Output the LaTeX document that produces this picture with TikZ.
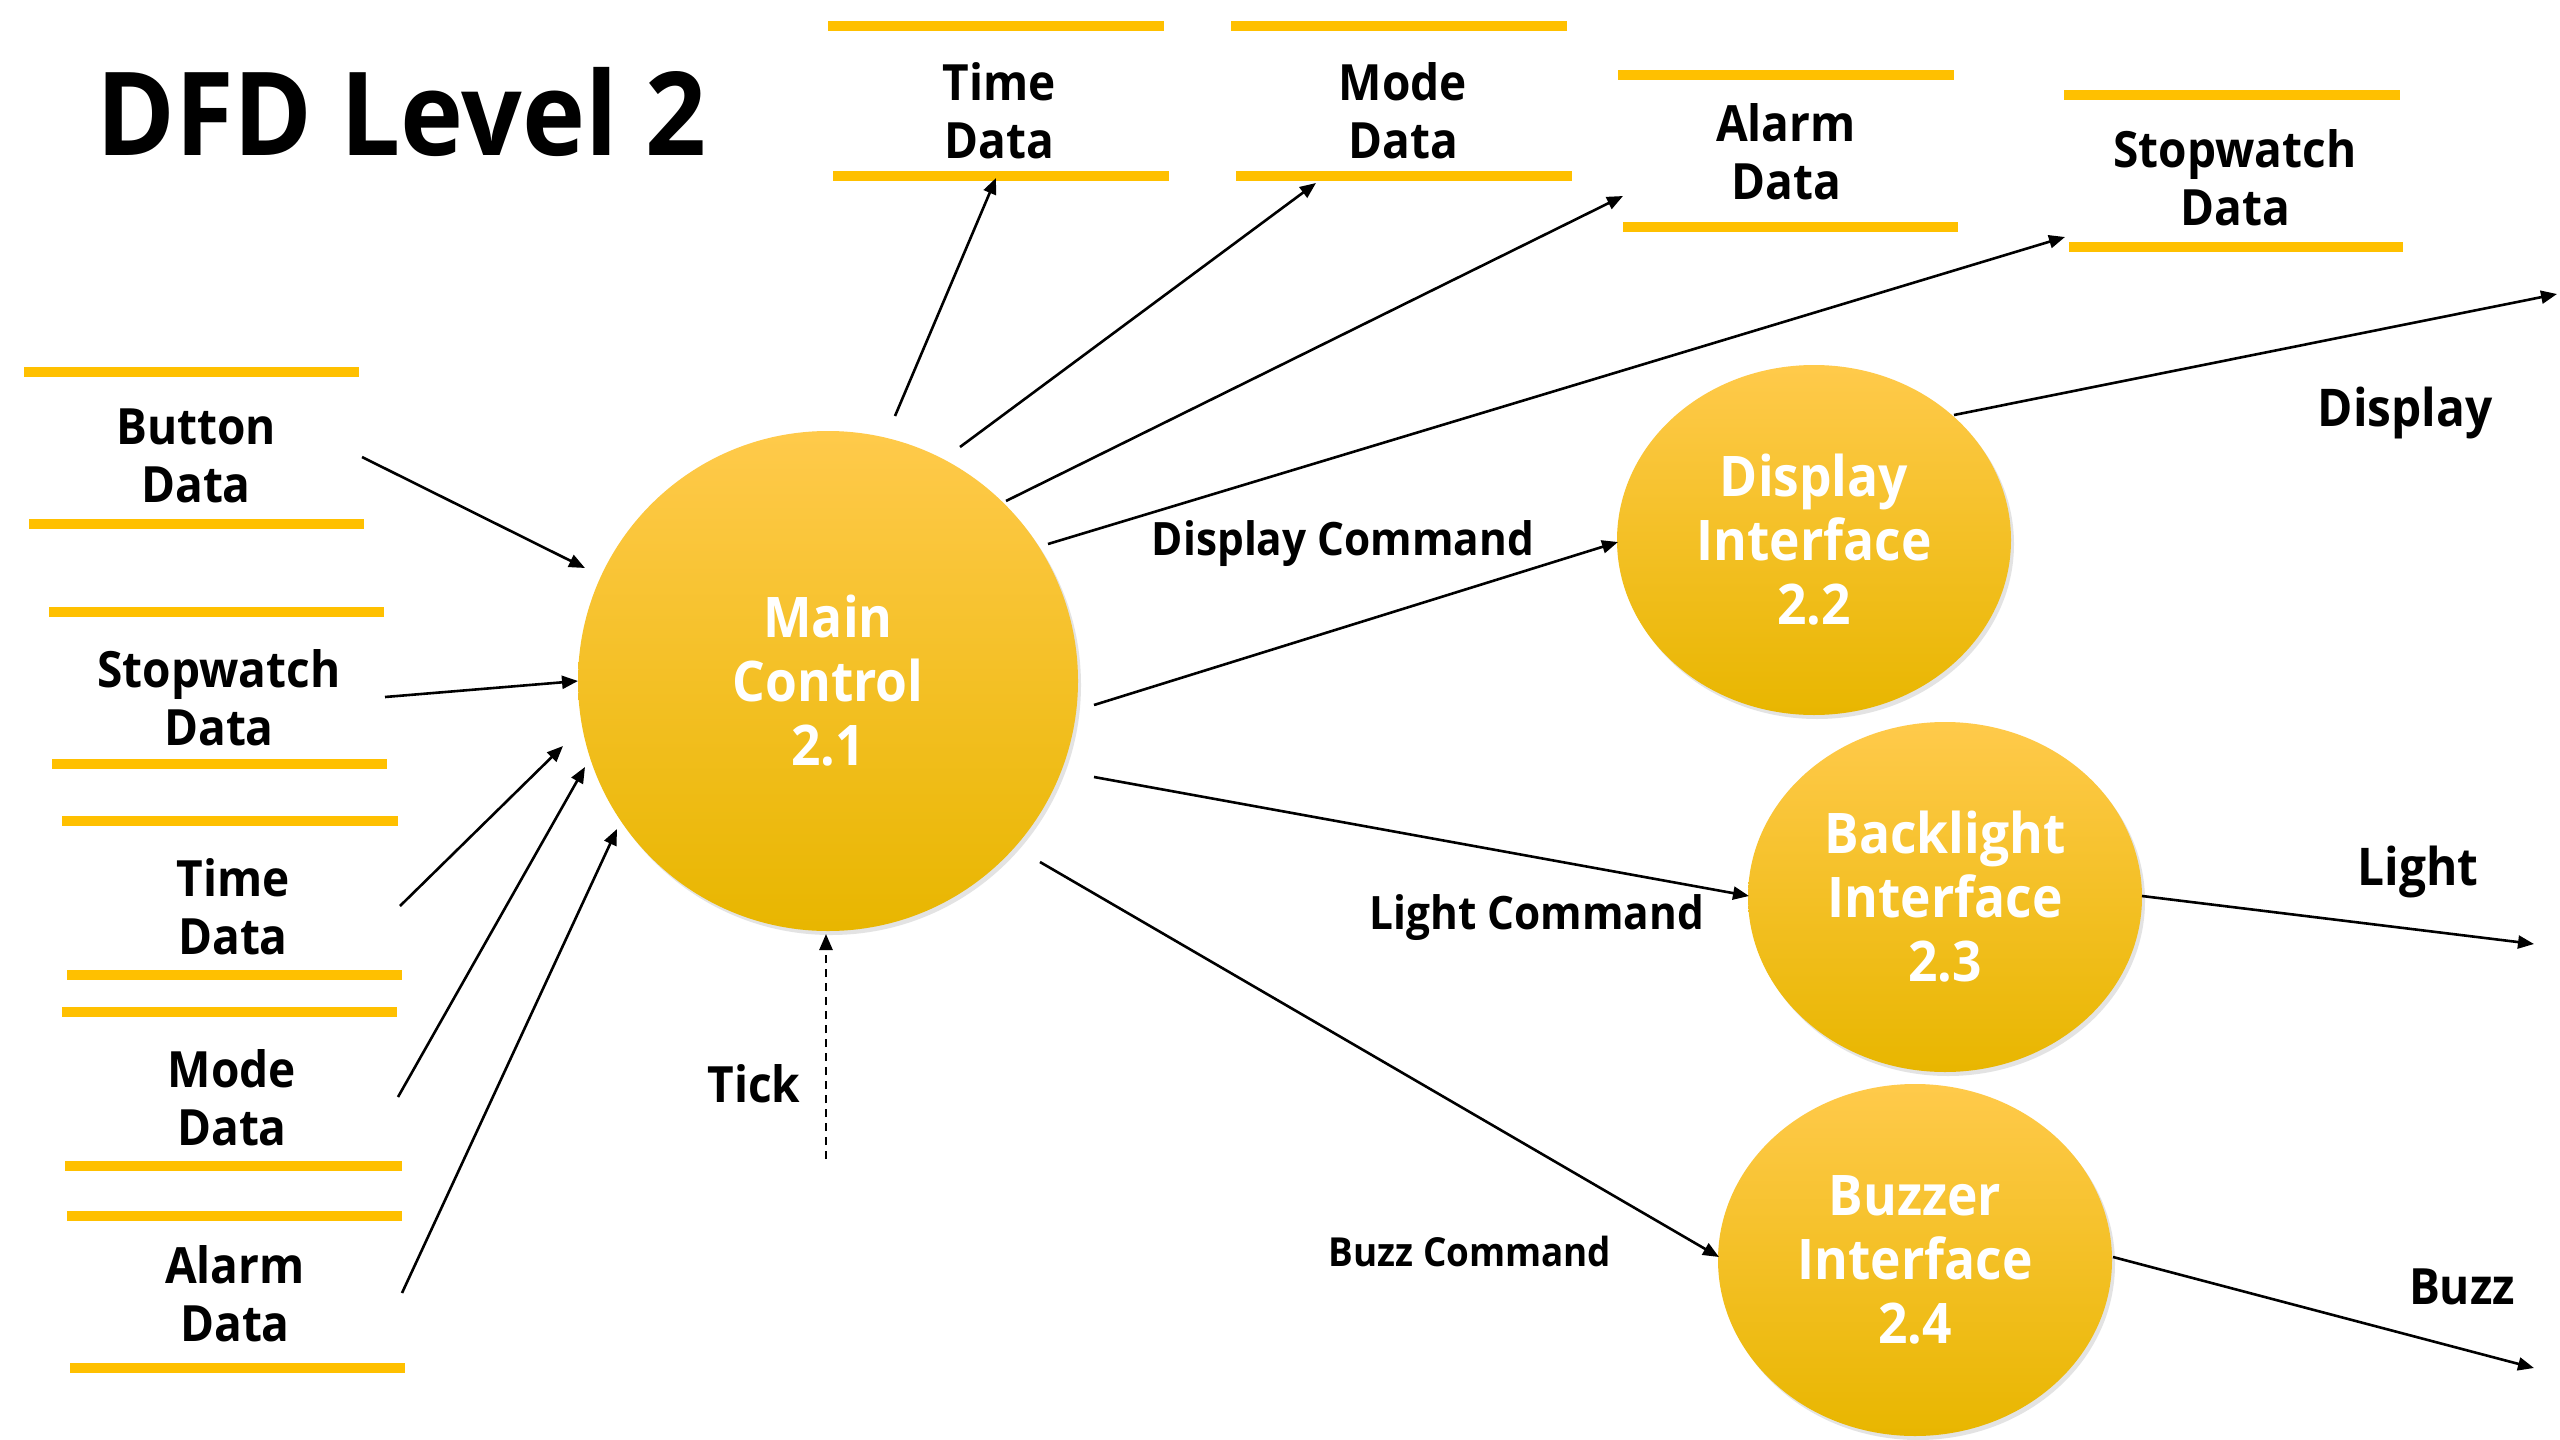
\documentclass[tikz,border=0pt]{standalone}
\usepackage{fontspec}
\setmainfont{Open Sans}[FakeStretch=0.92]
\usetikzlibrary{arrows.meta,shapes.geometric,shadows}
\definecolor{gold}{HTML}{FFC000}
\definecolor{goldtop}{HTML}{FFCA4B}
\definecolor{goldmid}{HTML}{FFC400}
\definecolor{goldbot}{HTML}{E8B600}
\tikzset{
  storebar/.style={draw=gold, line width=5pt},
  storetext/.style={font=\fontsize{25pt}{29pt}\selectfont\bfseries, align=center, inner sep=0pt},
  proc/.style={shape=ellipse, inner sep=0pt, top color=goldtop, middle color=goldmid, bottom color=goldbot,
    drop shadow={opacity=0.22, shadow xshift=1.5pt, shadow yshift=-2pt},
    text=white, font=\fontsize{28pt}{32pt}\selectfont\bfseries, align=center},
  flow/.style={draw=black, line width=1.3pt, -{Triangle[length=8pt,width=6.5pt]}},
  lbl/.style={font=\fontsize{23pt}{27pt}\selectfont\bfseries, inner sep=0pt}
}
\begin{document}
\begin{tikzpicture}[x=0.5pt,y=-0.5pt]
\useasboundingbox[fill=white] (0,0) rectangle (2560,1440);

% title
\node[anchor=base west, inner sep=0pt, font=\fontsize{58pt}{64pt}\selectfont\bfseries] (title) at (96,155) {DFD Level 2};

% data stores (top row)
\draw[storebar] (828,26) -- (1164,26);   \draw[storebar] (833,176) -- (1169,176);
\node[storetext] (timeT) at (999,111) {Time\\Data};
\draw[storebar] (1231,26) -- (1567,26);  \draw[storebar] (1236,176) -- (1572,176);
\node[storetext] (modeT) at (1403,111) {Mode\\Data};
\draw[storebar] (1618,75) -- (1954,75);  \draw[storebar] (1623,227) -- (1958,227);
\node[storetext] (alarmT) at (1786,152) {Alarm\\Data};
\draw[storebar] (2064,95) -- (2400,95);  \draw[storebar] (2069,247) -- (2403,247);
\node[storetext] (swT) at (2235,178) {Stopwatch\\Data};

% data stores (left column)
\draw[storebar] (24,372) -- (359,372);   \draw[storebar] (29,524) -- (364,524);
\node[storetext] (button) at (196,456) {Button\\Data};
\draw[storebar] (49,612) -- (384,612);   \draw[storebar] (52,764) -- (387,764);
\node[storetext] (swL) at (219,698) {Stopwatch\\Data};
\draw[storebar] (62,821) -- (398,821);   \draw[storebar] (67,975) -- (402,975);
\node[storetext] (timeL) at (233,907) {Time\\Data};
\draw[storebar] (62,1012) -- (397,1012); \draw[storebar] (65,1166) -- (402,1166);
\node[storetext] (modeL) at (232,1098) {Mode\\Data};
\draw[storebar] (67,1216) -- (402,1216); \draw[storebar] (70,1368) -- (405,1368);
\node[storetext] (alarmL) at (235,1294) {Alarm\\Data};

% processes
\node[proc, minimum width=250pt, minimum height=250pt] (main) at (828,681) {Main\\Control\\2.1};
\node[proc, minimum width=197pt, minimum height=175pt] (disp) at (1814,540) {Display\\Interface\\2.2};
\node[proc, minimum width=197pt, minimum height=175pt] (back) at (1945,897) {Backlight\\Interface\\2.3};
\node[proc, minimum width=197pt, minimum height=176pt] (buzz) at (1915,1260) {Buzzer\\Interface\\2.4};

% connector ports
\coordinate (buttonOut) at (362,457);  \coordinate (mainInA) at (585,568);
\coordinate (swLOut) at (385,697);     \coordinate (mainInB) at (578,681);
\coordinate (timeLOut) at (400,906);   \coordinate (mainInC) at (563,746);
\coordinate (modeLOut) at (398,1097);  \coordinate (mainInD) at (585,767);
\coordinate (alarmLOut) at (402,1293); \coordinate (mainInE) at (617,829);
\coordinate (tickSrc) at (826,1159);   \coordinate (mainInF) at (826,934);
\coordinate (mainOutA) at (895,416);   \coordinate (timeTIn) at (996,178);
\coordinate (mainOutB) at (960,447);   \coordinate (modeTIn) at (1316,183);
\coordinate (mainOutC) at (1006,501);  \coordinate (alarmTIn) at (1623,196);
\coordinate (mainOutD) at (1048,544);  \coordinate (swTIn) at (2065,237);
\coordinate (mainOutE) at (1094,705);  \coordinate (dispIn) at (1618,542);
\coordinate (mainOutF) at (1094,777);  \coordinate (backIn) at (1749,896);
\coordinate (mainOutG) at (1040,862);  \coordinate (buzzIn) at (1719,1257);
\coordinate (dispOut) at (1954,415);   \coordinate (dispSink) at (2557,294);
\coordinate (backOut) at (2142,896);   \coordinate (backSink) at (2534,944);
\coordinate (buzzOut) at (2113,1257);  \coordinate (buzzSink) at (2534,1368);

% connectors
\draw[flow] (buttonOut) -- (mainInA);
\draw[flow] (swLOut) -- (mainInB);
\draw[flow] (timeLOut) -- (mainInC);
\draw[flow] (modeLOut) -- (mainInD);
\draw[flow] (alarmLOut) -- (mainInE);
\draw[flow, dash pattern=on 4pt off 3pt] (tickSrc) -- (mainInF);
\draw[flow] (mainOutA) -- (timeTIn);
\draw[flow] (mainOutB) -- (modeTIn);
\draw[flow] (mainOutC) -- (alarmTIn);
\draw[flow] (mainOutD) -- (swTIn);
\draw[flow] (mainOutE) -- (dispIn);
\draw[flow] (mainOutF) -- (backIn);
\draw[flow] (mainOutG) -- (buzzIn);
\draw[flow] (dispOut) -- (dispSink);
\draw[flow] (backOut) -- (backSink);
\draw[flow] (buzzOut) -- (buzzSink);

% labels
\node[lbl] (lDispCmd) at (1343,544) {Display Command};
\node[lbl] (lLightCmd) at (1537,918) {Light Command};
\node[lbl, font=\fontsize{20pt}{24pt}\selectfont\bfseries] (lBuzzCmd) at (1470,1251) {Buzz Command};
\node[lbl, font=\fontsize{25pt}{29pt}\selectfont\bfseries] (lTick) at (754,1084) {Tick};
\node[lbl, font=\fontsize{26pt}{30pt}\selectfont\bfseries] (lDisp) at (2405,413) {Display};
\node[lbl, font=\fontsize{26pt}{30pt}\selectfont\bfseries] (lLight) at (2418,872) {Light};
\node[lbl, font=\fontsize{25pt}{29pt}\selectfont\bfseries] (lBuzz) at (2462,1287) {Buzz};
\end{tikzpicture}
\end{document}
